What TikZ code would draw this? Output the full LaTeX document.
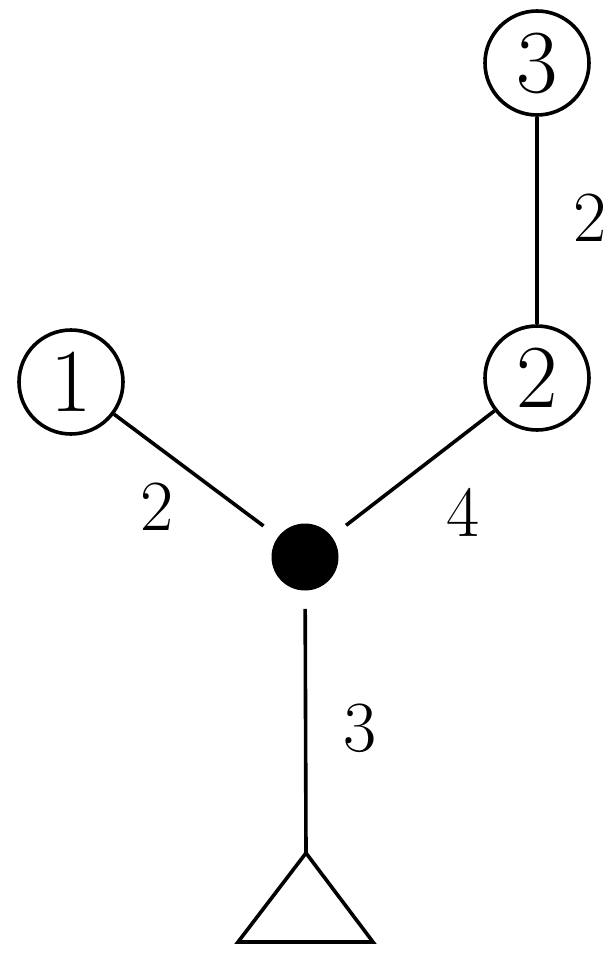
\documentclass[tikz,border=0pt]{standalone}
\usepackage{fontspec}
\begin{document}
\begin{tikzpicture}[x=0.5pt,y=-0.5pt,
  vert/.style={circle,draw,line width=1.8pt,minimum size=52pt,inner sep=0pt,font=\fontsize{45}{45}\selectfont},
  hub/.style={circle,fill=black,minimum size=33.5pt,inner sep=0pt},
  edge/.style={line width=1.8pt},
  wlabel/.style={inner sep=0pt,font=\fontsize{36}{36}\selectfont}]
\useasboundingbox (0,0) rectangle (615,958);
\node[vert] (v1) at (71,382) {1};
\node[vert] (v2) at (537,378) {2};
\node[vert] (v3) at (537,63) {3};
\node[hub] (h) at (305,557) {};
\coordinate (root) at (306,853);
\coordinate (bl) at (238,942);
\coordinate (br) at (373,942);
\draw[edge] (v3) -- (v2);
\draw[edge,shorten >=9pt] (v1) -- (h);
\draw[edge,shorten >=9pt] (v2) -- (h);
\draw[edge,shorten <=9pt] (h) -- (root);
\draw[edge,line join=miter] (root) -- (bl) -- (br) -- cycle;
\node[wlabel] (l32) at (590,218) {2};
\node[wlabel] (l1h) at (157,507) {2};
\node[wlabel] (l2h) at (463,512) {4};
\node[wlabel] (lhr) at (360,728) {3};
\end{tikzpicture}
\end{document}
